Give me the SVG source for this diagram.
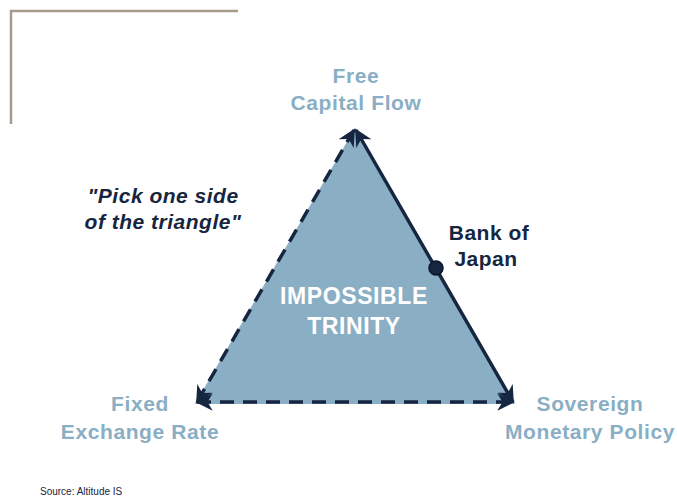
<svg xmlns="http://www.w3.org/2000/svg" width="677" height="498" viewBox="0 0 677 498">
  <style>
    .corner { fill: none; stroke: #a89a88; stroke-width: 2.5; }
    .side { fill: none; stroke: #172640; stroke-width: 3.5; }
    .dash { stroke-dasharray: 14 9; }
    .vertex { font-family: "Liberation Sans", Arial, sans-serif; font-weight: bold; font-size: 21px; letter-spacing: 0.6px; fill: #8aaec4; text-anchor: middle; }
    .note { font-family: "Liberation Sans", Arial, sans-serif; font-weight: bold; font-size: 21px; letter-spacing: 0.5px; fill: #172640; text-anchor: middle; }
    .center { font-family: "Liberation Sans", Arial, sans-serif; font-weight: bold; font-size: 23px; letter-spacing: 0.6px; fill: #ffffff; text-anchor: middle; }
    .source { font-family: "Liberation Sans", Arial, sans-serif; font-size: 10px; fill: #172640; }
  </style>
  <defs>
    <marker id="arrow" viewBox="0 0 10 10" refX="9" refY="5" markerWidth="5" markerHeight="5" orient="auto-start-reverse" markerUnits="strokeWidth">
      <path d="M0,0 L10,5 L0,10 L3,5 Z" fill="#172640"/>
    </marker>
  </defs>

  <!-- corner bracket -->
  <path class="corner" d="M11,124 V11 H238"/>

  <!-- triangle body -->
  <g id="trinity">
    <polygon points="355,128 195,404 515,404" fill="#8aaec4"/>
    <text class="center" x="354" y="304">IMPOSSIBLE</text>
    <text class="center" x="354" y="334">TRINITY</text>
  </g>

  <!-- sides of the triangle -->
  <g id="connectors">
    <line class="side dash" x1="354" y1="130" x2="197" y2="402" marker-start="url(#arrow)" marker-end="url(#arrow)"/>
    <line class="side" x1="356" y1="130" x2="513" y2="402" marker-start="url(#arrow)" marker-end="url(#arrow)"/>
    <line class="side dash" x1="197" y1="402" x2="513" y2="402" marker-start="url(#arrow)" marker-end="url(#arrow)"/>
  </g>

  <g id="free-capital-flow">
    <text class="vertex" x="356" y="83">Free</text>
    <text class="vertex" x="356" y="110">Capital Flow</text>
  </g>

  <g id="fixed-exchange-rate">
    <text class="vertex" x="140" y="411">Fixed</text>
    <text class="vertex" x="140" y="439">Exchange Rate</text>
  </g>

  <g id="sovereign-monetary-policy">
    <text class="vertex" x="590" y="411">Sovereign</text>
    <text class="vertex" x="590" y="439">Monetary Policy</text>
  </g>

  <g id="pick-one-side">
    <text class="note" x="163" y="203" font-style="italic">"Pick one side</text>
    <text class="note" x="163" y="229" font-style="italic">of the triangle"</text>
  </g>

  <g id="bank-of-japan">
    <circle cx="436" cy="268" r="7" fill="#172640" stroke="#0b1528" stroke-width="1.5"/>
    <text class="note" x="489" y="240">Bank of</text>
    <text class="note" x="486" y="266">Japan</text>
  </g>

  <text class="source" x="40" y="495">Source: Altitude IS</text>
</svg>
